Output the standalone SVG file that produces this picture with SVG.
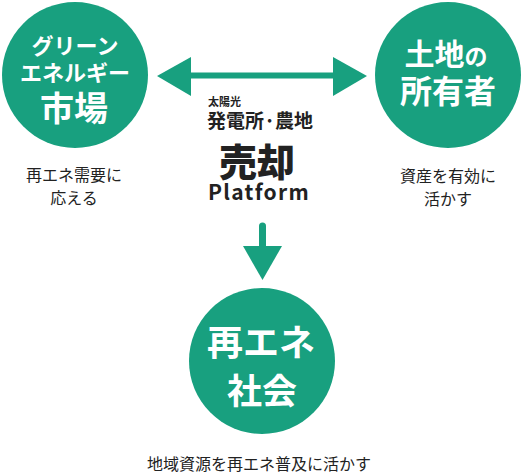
<svg xmlns="http://www.w3.org/2000/svg" width="524" height="476" viewBox="0 0 524 476">
<style>
.node{fill:#18A07F}
.w{fill:#fff;font-family:"Noto Sans CJK JP","Noto Sans",sans-serif;font-weight:bold;text-anchor:middle}
.t{fill:#222;font-family:"Noto Sans CJK JP","Noto Sans",sans-serif;text-anchor:middle}
.arr{fill:#18A07F}
</style>
<rect width="524" height="476" fill="#fff"/>
<g id="connectors">
<rect class="arr" x="189" y="72.5" width="146" height="6"/>
<polygon class="arr" points="157,76 191,57 191,96"/>
<polygon class="arr" points="367,76 333,57 333,96"/>
<line x1="262.5" y1="226" x2="262.5" y2="250" stroke="#18A07F" stroke-width="7" stroke-linecap="round"/>
<polygon class="arr" points="243,246 282,246 262.5,280"/>
</g>
<g id="node-market">
<circle class="node" cx="75" cy="75" r="73"/>
<text class="w" x="75" y="54" font-size="22">グリーン</text>
<text class="w" x="75" y="81" font-size="22">エネルギー</text>
<text class="w" x="74" y="121" font-size="34">市場</text>
<text class="t" x="74" y="181" font-size="16">再エネ需要に</text>
<text class="t" x="74" y="204" font-size="16">応える</text>
</g>
<g id="node-owner">
<circle class="node" cx="448" cy="75" r="73"/>
<text class="w" x="446" y="65" font-size="30">土地<tspan font-size="23">の</tspan></text>
<text class="w" x="448" y="103" font-size="32">所有者</text>
<text class="t" x="448" y="182" font-size="16">資産を有効に</text>
<text class="t" x="448" y="205" font-size="16">活かす</text>
</g>
<g id="node-platform">
<text x="208" y="106" font-size="11" font-family="'Noto Sans CJK JP',sans-serif" font-weight="bold" fill="#222">太陽光</text>
<text class="t" x="260" y="128" font-size="19" font-weight="bold">発電所·農地</text>
<text class="t" x="257" y="176" font-size="38" font-weight="900">売却</text>
<text class="t" x="259" y="200" font-size="21" font-weight="bold" letter-spacing="1.3" font-family="'Liberation Sans',Arial,sans-serif">Platform</text>
</g>
<g id="node-society">
<circle class="node" cx="262" cy="361" r="73"/>
<text class="w" x="261" y="356" font-size="36">再エネ</text>
<text class="w" x="262" y="404" font-size="35">社会</text>
<text class="t" x="259" y="470" font-size="16">地域資源を再エネ普及に活かす</text>
</g>
</svg>
